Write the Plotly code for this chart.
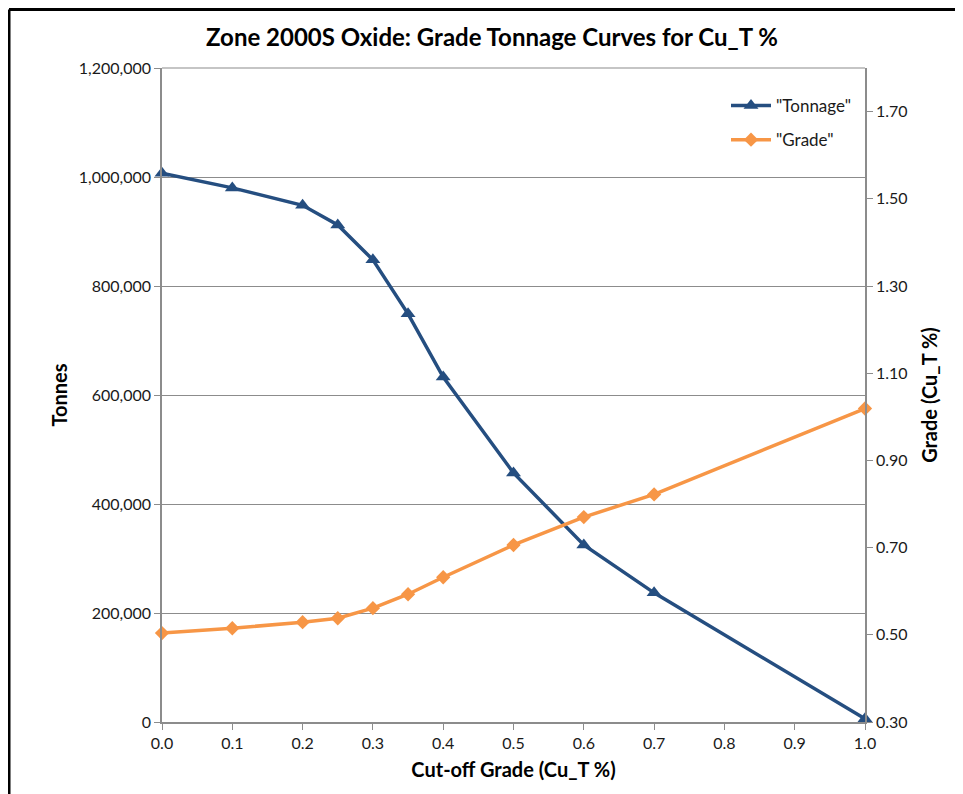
import plotly.graph_objects as go

cutoff = [0.0, 0.1, 0.2, 0.25, 0.3, 0.35, 0.4, 0.5, 0.6, 0.7, 1.0]
tonnage = [1007000, 980000, 948000, 912000, 848000, 749000, 633000, 457000, 325000, 237000, 6000]
grade = [0.504, 0.515, 0.529, 0.538, 0.561, 0.593, 0.632, 0.706, 0.770, 0.822, 1.019]

left_ticks = [0, 200000, 400000, 600000, 800000, 1000000, 1200000]
right_ticks = [0.30, 0.50, 0.70, 0.90, 1.10, 1.30, 1.50, 1.70]
x_ticks = [0.0, 0.1, 0.2, 0.3, 0.4, 0.5, 0.6, 0.7, 0.8, 0.9, 1.0]

BLUE = "#254E80"
ORANGE = "#F79646"
GRID = "#8C8C8C"
FONT = "Lato"
TXT = "#1a1a1a"

fig = go.Figure()
fig.add_trace(go.Scatter(
    x=cutoff, y=tonnage, name='"Tonnage"', mode="lines+markers",
    legendgroup="t",
    line=dict(color=BLUE, width=3.5),
    marker=dict(symbol="triangle-up", size=13, color=BLUE),
    cliponaxis=False, yaxis="y"))
fig.add_trace(go.Scatter(
    x=cutoff, y=grade, name='"Grade"', mode="lines+markers",
    legendgroup="g",
    line=dict(color=ORANGE, width=3.5),
    marker=dict(symbol="diamond", size=11, color=ORANGE),
    cliponaxis=False, yaxis="y2"))

# page body has an 8px margin; work in page pixel coordinates
OFF = 8
W, H = 963 - OFF, 794 - OFF
L, R, T, B = 162 - OFF, 865 - OFF, 68 - OFF, 722 - OFF
pw, ph = R - L, B - T

def px(x):
    return (x - OFF - L) / pw

def py(y):
    return (B - (y - OFF)) / ph

fig.update_layout(
    width=W, height=H,
    margin=dict(l=L, r=W - R, t=T, b=H - B),
    paper_bgcolor="white", plot_bgcolor="white",
    font=dict(family=FONT, size=16, color=TXT),
    title=dict(text="<b>Zone 2000S Oxide: Grade Tonnage Curves for Cu_T %</b>",
               x=(492 - OFF) / W, xanchor="center", y=1 - (38 - OFF) / H, yanchor="middle",
               font=dict(family=FONT, size=24, color="#000000")),
    xaxis=dict(range=[0, 1], tickvals=x_ticks, tickformat=".1f",
               showgrid=False, zeroline=False,
               showline=True, linecolor=GRID, linewidth=1.5,
               ticks="outside", ticklen=6, tickcolor=GRID,
               tickfont=dict(size=16, color=TXT),
               title=dict(text="<b>Cut-off Grade (Cu_T %)</b>", standoff=12,
                          font=dict(family=FONT, size=20, color="#000000"))),
    yaxis=dict(range=[0, 1200000], tickvals=left_ticks, tickformat=",",
               showgrid=True, gridcolor=GRID, gridwidth=1.2, zeroline=False,
               showline=True, linecolor=GRID, linewidth=1.5,
               ticks="outside", ticklen=6, tickcolor=GRID,
               tickfont=dict(size=16, color=TXT),
               title=dict(text="<b>Tonnes</b>", standoff=6,
                          font=dict(family=FONT, size=20, color="#000000"))),
    yaxis2=dict(range=[0.30, 1.80], tickvals=right_ticks, tickformat=".2f",
                overlaying="y", side="right", showgrid=False, zeroline=False,
                showline=True, linecolor=GRID, linewidth=1.5,
                ticks="outside", ticklen=6, tickcolor=GRID,
                tickfont=dict(size=16, color=TXT),
                title=dict(text="<b>Grade (Cu_T %)</b>", standoff=16,
                           font=dict(family=FONT, size=20, color="#000000"))),
    legend=dict(x=px(726), y=py(88), xanchor="left", yanchor="top",
                bgcolor="rgba(0,0,0,0)", borderwidth=0,
                font=dict(family=FONT, size=17, color=TXT),
                tracegroupgap=9, itemwidth=40),
    showlegend=True,
)

# outer chart border (top and left edges visible in the reference)
fig.add_shape(type="line", xref="paper", yref="paper",
              x0=px(9), x1=px(975), y0=py(9.5), y1=py(9.5),
              line=dict(color="black", width=3))
fig.add_shape(type="line", xref="paper", yref="paper",
              x0=px(9), x1=px(9), y0=py(9.5), y1=py(805),
              line=dict(color="black", width=3))
# top border of plot area
fig.add_shape(type="line", xref="paper", yref="paper",
              x0=0, x1=1, y0=1, y1=1, line=dict(color=GRID, width=1.2))

fig.write_html("out.html")
